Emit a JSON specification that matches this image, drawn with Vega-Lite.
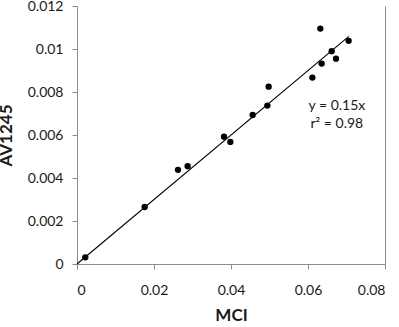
{
  "$schema": "https://vega.github.io/schema/vega-lite/v6.json",
  "width": 308,
  "height": 258,
  "autosize": {"type": "none"},
  "padding": {"left": 77, "top": 6, "right": 14, "bottom": 63},
  "background": "white",
  "config": {
    "view": {"stroke": null},
    "font": "Lato",
    "axis": {
      "grid": false,
      "domainColor": "#8c8c8c",
      "tickColor": "#8c8c8c",
      "tickSize": 5,
      "labelFont": "Lato",
      "labelFontSize": 14,
      "labelColor": "#1a1a1a",
      "titleFont": "Lato",
      "titleFontSize": 17,
      "titleFontWeight": "bold",
      "titleColor": "#1a1a1a"
    }
  },
  "datasets": {
    "points": [
      {"MCI": 0.00216, "AV1245": 0.00031},
      {"MCI": 0.01758, "AV1245": 0.00265},
      {"MCI": 0.02623, "AV1245": 0.00438},
      {"MCI": 0.02874, "AV1245": 0.00455},
      {"MCI": 0.03818, "AV1245": 0.00592},
      {"MCI": 0.03983, "AV1245": 0.00568},
      {"MCI": 0.04563, "AV1245": 0.00693},
      {"MCI": 0.04944, "AV1245": 0.00737},
      {"MCI": 0.04978, "AV1245": 0.00825},
      {"MCI": 0.06113, "AV1245": 0.00867},
      {"MCI": 0.0632, "AV1245": 0.01095},
      {"MCI": 0.06355, "AV1245": 0.00932},
      {"MCI": 0.06615, "AV1245": 0.0099},
      {"MCI": 0.06727, "AV1245": 0.00955},
      {"MCI": 0.07056, "AV1245": 0.01038}
    ],
    "fit": [
      {"MCI": 0.0, "AV1245": 0.0},
      {"MCI": 0.0706, "AV1245": 0.01059}
    ],
    "notes": [
      {"MCI": 0.0675, "AV1245": 0.00737, "label": "y = 0.15x"},
      {"MCI": 0.0675, "AV1245": 0.00653, "label": "r² = 0.98"}
    ]
  },
  "layer": [
    {
      "data": {"name": "fit"},
      "mark": {"type": "line", "color": "#000000", "strokeWidth": 1.1},
      "encoding": {
        "x": {"field": "MCI", "type": "quantitative", "scale": {"domain": [0, 0.08], "nice": false},
          "axis": {"values": [0, 0.02, 0.04, 0.06, 0.08], "format": "~g", "labelPadding": 14, "title": "MCI", "titlePadding": 10}},
        "y": {"field": "AV1245", "type": "quantitative", "scale": {"domain": [0, 0.012], "nice": false},
          "axis": {"values": [0, 0.002, 0.004, 0.006, 0.008, 0.01, 0.012], "format": "~g", "labelPadding": 9, "title": "AV1245", "titlePadding": 12}}
      }
    },
    {
      "data": {"name": "points"},
      "mark": {"type": "point", "filled": true, "color": "#000000", "opacity": 1, "size": 40},
      "encoding": {
        "x": {"field": "MCI", "type": "quantitative"},
        "y": {"field": "AV1245", "type": "quantitative",
          "axis": {"orient": "right", "labels": false, "ticks": false, "title": null, "values": [0.012]}}
      }
    },
    {
      "data": {"name": "notes"},
      "mark": {"type": "text", "fontSize": 14, "font": "Lato", "color": "#1a1a1a", "align": "center", "baseline": "middle"},
      "encoding": {
        "x": {"field": "MCI", "type": "quantitative"},
        "y": {"field": "AV1245", "type": "quantitative", "axis": null},
        "text": {"field": "label"}
      }
    }
  ],
  "resolve": {"axis": {"y": "independent"}}
}
